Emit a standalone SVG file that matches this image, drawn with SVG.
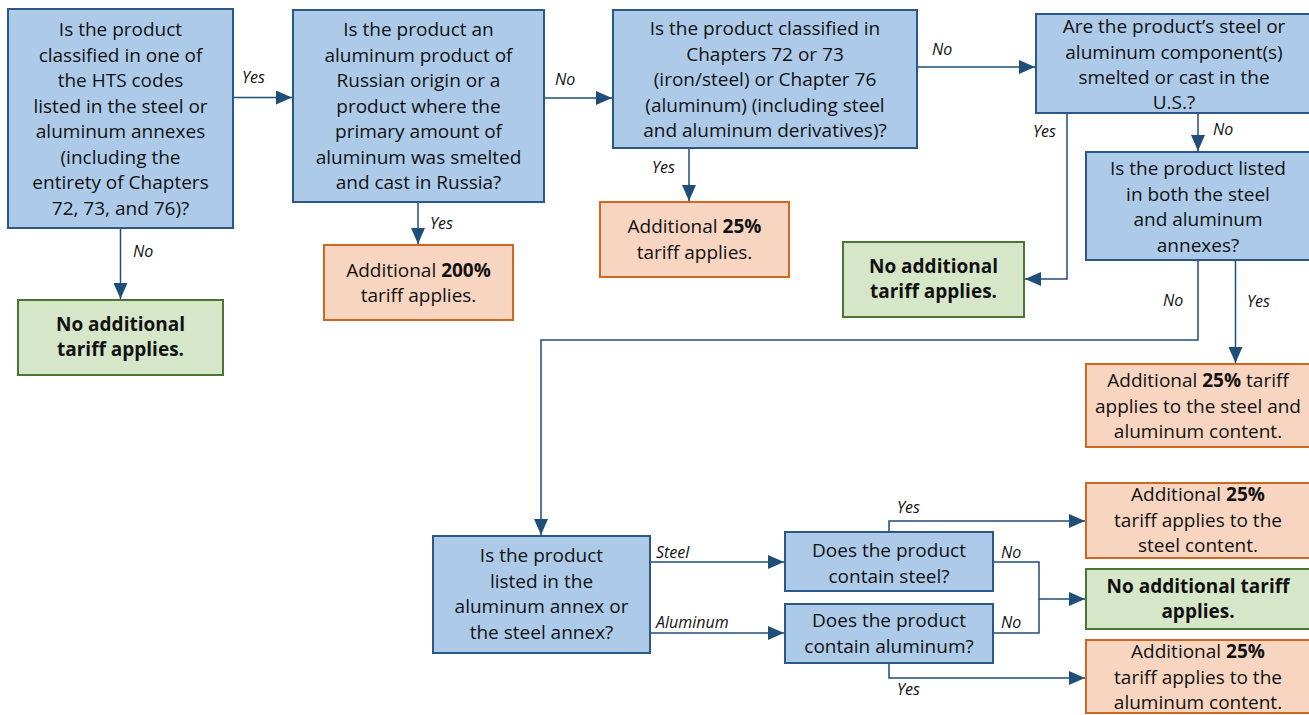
<svg xmlns="http://www.w3.org/2000/svg" width="1309" height="715" viewBox="0 0 1309 715">
<style>
.q{fill:#ADCBE9;stroke:#2B5887;stroke-width:2}
.o{fill:#F8D5C0;stroke:#D0661F;stroke-width:2}
.g{fill:#D6E6C8;stroke:#4A7533;stroke-width:2}
.t{font-family:"Open Sans","Liberation Sans",sans-serif;font-size:19px;fill:#111;text-anchor:middle}
.b{font-weight:bold}
.l{font-family:"Open Sans","Liberation Sans",sans-serif;font-size:16px;font-style:italic;fill:#111}
.c{fill:none;stroke:#1F4E79;stroke-width:1.5;marker-end:url(#ah)}
</style>
<defs>
<marker id="ah" markerUnits="userSpaceOnUse" markerWidth="16" markerHeight="14" refX="16" refY="7" orient="auto">
<path d="M0,0 L16,7 L0,14 z" fill="#1F4E79"/>
</marker>
</defs>
<rect width="1309" height="715" fill="#fff"/>
<g id="connectors">
<path class="c" d="M233,97.5 H292"/>
<path class="c" d="M544,98 H612"/>
<path class="c" d="M917,67 H1035"/>
<path class="c" d="M120.5,228 V299"/>
<path class="c" d="M418,202 V244"/>
<path class="c" d="M689,148 V201"/>
<path class="c" d="M1067,113 V279 H1025"/>
<path class="c" d="M1198,113 V151"/>
<path class="c" d="M1198,260 V340 H541 V535"/>
<path class="c" d="M1235.5,253 V363"/>
<path class="c" d="M650,562 H784"/>
<path class="c" d="M650,633 H784"/>
<path class="c" d="M889,532 V521 H1085"/>
<path class="c" d="M889,663 V678 H1085"/>
<path fill="none" stroke="#1F4E79" stroke-width="1.5" d="M993,562 H1039 V633 H993"/>
<path class="c" d="M1039,599 H1085"/>
<text class="l" x="242" y="83">Yes</text>
<text class="l" x="555" y="85">No</text>
<text class="l" x="932" y="55">No</text>
<text class="l" x="430" y="229">Yes</text>
<text class="l" x="652" y="173">Yes</text>
<text class="l" x="133" y="257">No</text>
<text class="l" x="1033" y="137">Yes</text>
<text class="l" x="1213" y="135">No</text>
<text class="l" x="1163" y="306">No</text>
<text class="l" x="1247" y="307">Yes</text>
<text class="l" x="656" y="558">Steel</text>
<text class="l" x="656" y="628">Aluminum</text>
<text class="l" x="897" y="513">Yes</text>
<text class="l" x="1001" y="558">No</text>
<text class="l" x="1001" y="628">No</text>
<text class="l" x="897" y="695">Yes</text>
</g>
<g id="q1">
<rect class="q" x="8" y="9" width="225" height="219"/>
<text class="t" x="120.5" y="36">Is the product</text>
<text class="t" x="120.5" y="61.5">classified in one of</text>
<text class="t" x="120.5" y="87">the HTS codes</text>
<text class="t" x="120.5" y="112.5">listed in the steel or</text>
<text class="t" x="120.5" y="138">aluminum annexes</text>
<text class="t" x="120.5" y="163.5">(including the</text>
<text class="t" x="120.5" y="189">entirety of Chapters</text>
<text class="t" x="120.5" y="214.5">72, 73, and 76)?</text>
</g>
<g id="q2">
<rect class="q" x="293" y="10" width="251" height="192"/>
<text class="t" x="418.5" y="36">Is the product an</text>
<text class="t" x="418.5" y="61.5">aluminum product of</text>
<text class="t" x="418.5" y="87">Russian origin or a</text>
<text class="t" x="418.5" y="112.5">product where the</text>
<text class="t" x="418.5" y="138">primary amount of</text>
<text class="t" x="418.5" y="163.5">aluminum was smelted</text>
<text class="t" x="418.5" y="189">and cast in Russia?</text>
</g>
<g id="q3">
<rect class="q" x="613" y="10" width="304" height="138"/>
<text class="t" x="765" y="35">Is the product classified in</text>
<text class="t" x="765" y="60.5">Chapters 72 or 73</text>
<text class="t" x="765" y="86">(iron/steel) or Chapter 76</text>
<text class="t" x="765" y="111.5">(aluminum) (including steel</text>
<text class="t" x="765" y="137">and aluminum derivatives)?</text>
</g>
<g id="q4">
<rect class="q" x="1036" y="14" width="276" height="99"/>
<text class="t" x="1174" y="33">Are the product’s steel or</text>
<text class="t" x="1174" y="58.5">aluminum component(s)</text>
<text class="t" x="1174" y="84">smelted or cast in the</text>
<text class="t" x="1174" y="109">U.S.?</text>
</g>
<g id="q5">
<rect class="q" x="1086" y="152" width="226" height="108"/>
<text class="t" x="1198" y="175">Is the product listed</text>
<text class="t" x="1198" y="200.5">in both the steel</text>
<text class="t" x="1198" y="226">and aluminum</text>
<text class="t" x="1198" y="251.5">annexes?</text>
</g>
<g id="r200">
<rect class="o" x="324" y="245" width="189" height="75"/>
<text class="t" x="418.5" y="277">Additional <tspan class="b">200%</tspan></text>
<text class="t" x="418.5" y="302">tariff applies.</text>
</g>
<g id="r25">
<rect class="o" x="600" y="202" width="189" height="75"/>
<text class="t" x="694.5" y="233">Additional <tspan class="b">25%</tspan></text>
<text class="t" x="694.5" y="259">tariff applies.</text>
</g>
<g id="none1">
<rect class="g" x="18" y="300" width="205" height="75"/>
<text class="t b" x="120.5" y="331">No additional</text>
<text class="t b" x="120.5" y="356">tariff applies.</text>
</g>
<g id="none2">
<rect class="g" x="843" y="242" width="181" height="75"/>
<text class="t b" x="933.5" y="273">No additional</text>
<text class="t b" x="933.5" y="298">tariff applies.</text>
</g>
<g id="r25both">
<rect class="o" x="1086" y="364" width="226" height="83"/>
<text class="t" x="1198" y="387">Additional <tspan class="b">25%</tspan> tariff</text>
<text class="t" x="1198" y="412.5">applies to the steel and</text>
<text class="t" x="1198" y="438">aluminum content.</text>
</g>
<g id="q6">
<rect class="q" x="433" y="536" width="217" height="117"/>
<text class="t" x="541.5" y="562">Is the product</text>
<text class="t" x="541.5" y="588">listed in the</text>
<text class="t" x="541.5" y="613">aluminum annex or</text>
<text class="t" x="541.5" y="639">the steel annex?</text>
</g>
<g id="q7">
<rect class="q" x="785" y="532" width="208" height="59"/>
<text class="t" x="889" y="557">Does the product</text>
<text class="t" x="889" y="583">contain steel?</text>
</g>
<g id="q8">
<rect class="q" x="785" y="604" width="208" height="59"/>
<text class="t" x="889" y="627">Does the product</text>
<text class="t" x="889" y="653">contain aluminum?</text>
</g>
<g id="r25steel">
<rect class="o" x="1086" y="483" width="226" height="75"/>
<text class="t" x="1198" y="501">Additional <tspan class="b">25%</tspan></text>
<text class="t" x="1198" y="527">tariff applies to the</text>
<text class="t" x="1198" y="552">steel content.</text>
</g>
<g id="none3">
<rect class="g" x="1086" y="569" width="226" height="60"/>
<text class="t b" x="1198" y="593">No additional tariff</text>
<text class="t b" x="1198" y="618">applies.</text>
</g>
<g id="r25alu">
<rect class="o" x="1086" y="640" width="226" height="73"/>
<text class="t" x="1198" y="658">Additional <tspan class="b">25%</tspan></text>
<text class="t" x="1198" y="684">tariff applies to the</text>
<text class="t" x="1198" y="709">aluminum content.</text>
</g>
</svg>
